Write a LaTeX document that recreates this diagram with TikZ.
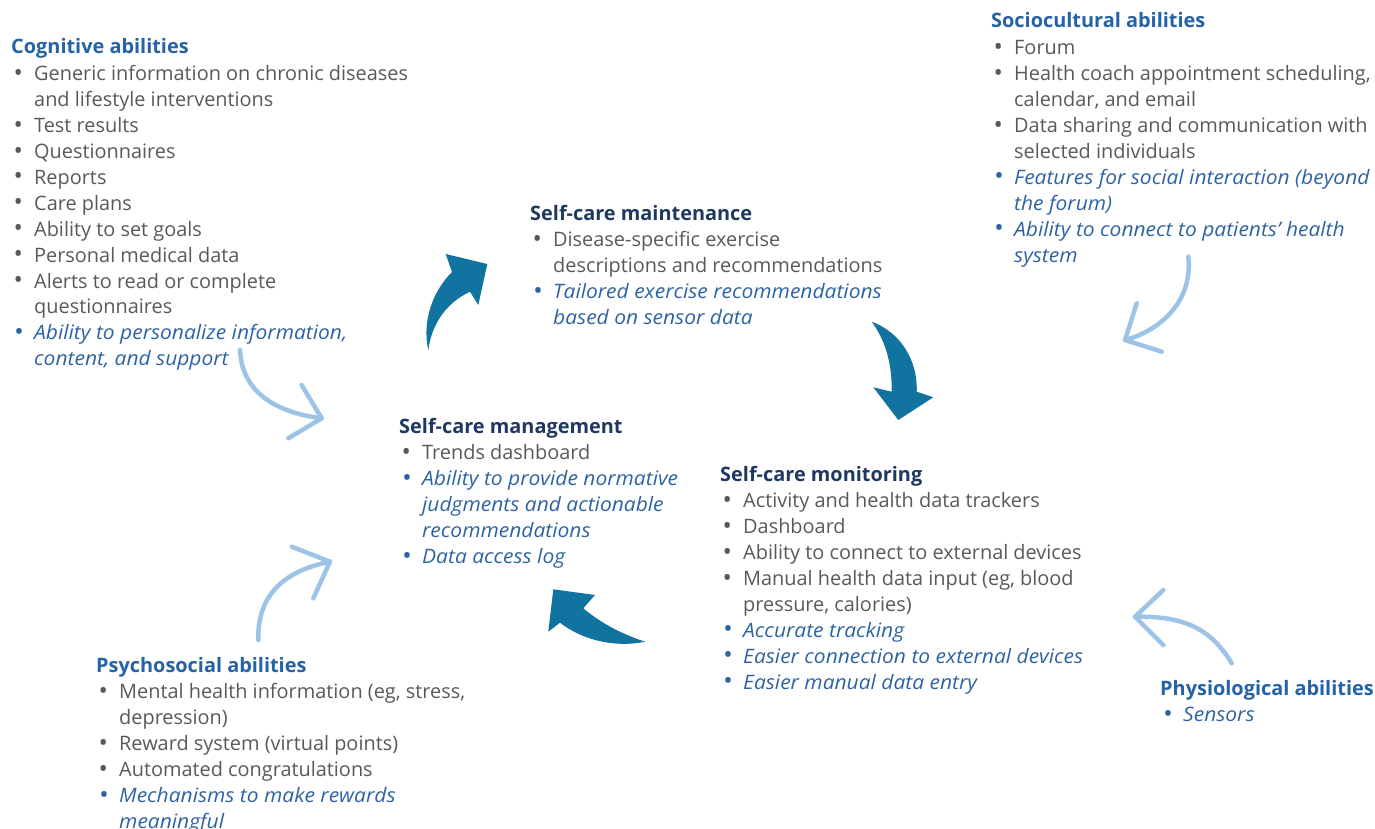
\documentclass[tikz,border=0pt]{standalone}
\usepackage{fontspec}
\setmainfont{Open Sans}[ItalicFeatures={FakeStretch=1.055}]

\definecolor{txtgray}{RGB}{89,89,89}
\definecolor{txtblue}{RGB}{46,99,163}
\definecolor{catblue}{RGB}{37,98,166}
\definecolor{navy}{RGB}{30,56,96}
\definecolor{teal}{RGB}{16,115,160}
\definecolor{lightblue}{RGB}{157,195,230}

% list helpers: bullet item, continuation line, gray and blue-italic text
\newcommand\itm[1]{\makebox[23pt][l]{\hspace{2.5pt}\raisebox{-0.5pt}{\scalebox{1.25}{\textbullet}}}#1}
\newcommand\cnt[1]{\hspace{23pt}#1}
\newcommand\G[1]{\textcolor{txtgray}{#1}}
\newcommand\B[1]{\textcolor{txtblue}{\itshape #1}}
\newcommand\catH[1]{\textcolor{catblue}{\bfseries #1}\\[1pt]}
\newcommand\stageH[1]{\textcolor{navy}{\bfseries #1}\\[1pt]}

\tikzset{
  block/.style={inner sep=0pt, anchor=base west, font=\fontsize{19.9}{25.9}\selectfont},
  bigarrow/.style={fill=teal, draw=none},
  thinarrow/.style={draw=lightblue, line width=4.5pt, line cap=round, line join=round},
}

\begin{document}
\begin{tikzpicture}[x=1pt,y=-1pt]
\useasboundingbox (0,0) rectangle (1375,829);

% ---- text blocks ----
\node[block] (cog) at (11,54) {\begin{tabular}[t]{@{}l@{}}
\catH{Cognitive abilities}
\G{\itm{Generic information on chronic diseases}}\\
\G{\cnt{and lifestyle interventions}}\\
\G{\itm{Test results}}\\
\G{\itm{Questionnaires}}\\
\G{\itm{Reports}}\\
\G{\itm{Care plans}}\\
\G{\itm{Ability to set goals}}\\
\G{\itm{Personal medical data}}\\
\G{\itm{Alerts to read or complete}}\\
\G{\cnt{questionnaires}}\\
\B{\itm{Ability to personalize information,}}\\
\B{\cnt{content, and support}}
\end{tabular}};

\node[block] (soc) at (991,28) {\begin{tabular}[t]{@{}l@{}}
\catH{Sociocultural abilities}
\G{\itm{Forum}}\\
\G{\itm{Health coach appointment scheduling,}}\\
\G{\cnt{calendar, and email}}\\
\G{\itm{Data sharing and communication with}}\\
\G{\cnt{selected individuals}}\\
\B{\itm{Features for social interaction (beyond}}\\
\B{\cnt{the forum)}}\\
\B{\itm{Ability to connect to patients’ health}}\\
\B{\cnt{system}}
\end{tabular}};

\node[block] (maint) at (530,220) {\begin{tabular}[t]{@{}l@{}}
\stageH{Self-care maintenance}
\G{\itm{Disease-specific exercise}}\\
\G{\cnt{descriptions and recommendations}}\\
\B{\itm{Tailored exercise recommendations}}\\
\B{\cnt{based on sensor data}}
\end{tabular}};

\node[block] (mgmt) at (399,433) {\begin{tabular}[t]{@{}l@{}}
\stageH{Self-care management}
\G{\itm{Trends dashboard}}\\
\B{\itm{Ability to provide normative}}\\
\B{\cnt{judgments and actionable}}\\
\B{\cnt{recommendations}}\\
\B{\itm{Data access log}}
\end{tabular}};

\node[block] (mon) at (720,481) {\begin{tabular}[t]{@{}l@{}}
\stageH{Self-care monitoring}
\G{\itm{Activity and health data trackers}}\\
\G{\itm{Dashboard}}\\
\G{\itm{Ability to connect to external devices}}\\
\G{\itm{Manual health data input (eg, blood}}\\
\G{\cnt{pressure, calories)}}\\
\B{\itm{Accurate tracking}}\\
\B{\itm{Easier connection to external devices}}\\
\B{\itm{Easier manual data entry}}
\end{tabular}};

\node[block] (psy) at (96,672) {\begin{tabular}[t]{@{}l@{}}
\catH{Psychosocial abilities}
\G{\itm{Mental health information (eg, stress,}}\\
\G{\cnt{depression)}}\\
\G{\itm{Reward system (virtual points)}}\\
\G{\itm{Automated congratulations}}\\
\B{\itm{Mechanisms to make rewards}}\\
\B{\cnt{meaningful}}
\end{tabular}};

\node[block] (phys) at (1160,695) {\begin{tabular}[t]{@{}l@{}}
\catH{Physiological abilities}
\B{\itm{Sensors}}
\end{tabular}};

% ---- curved block arrows of the care cycle ----
% management -> maintenance
\fill[bigarrow] (428.3,350)
  .. controls (422,322) and (432,292) .. (452,272)
  -- (445.7,254) -- (487.3,264) -- (478.3,305) -- (470,291.7)
  .. controls (448,302) and (432,322) .. cycle;
% maintenance -> monitoring
\fill[bigarrow] (871.7,321.7)
  .. controls (900,332) and (918,360) .. (916.7,391.7)
  -- (933.3,397.3) -- (898.3,420) -- (873.3,387.3) -- (891.7,391.7)
  .. controls (892,362) and (885,340) .. cycle;
% monitoring -> management
\fill[bigarrow] (645,641.7)
  .. controls (615,648) and (582,640) .. (560,622.7)
  -- (548.3,631.7) -- (553.3,589.3) -- (595,595) -- (583.3,608.3)
  .. controls (602,624) and (622,634) .. cycle;

% ---- thin arrows from the ability groups ----
\coordinate (a1s) at (240,350);   \coordinate (a1t) at (321.7,418.3);
\draw[thinarrow] (a1s) .. controls (242,395) and (280,413) .. (a1t);
\draw[thinarrow] (301.7,385) -- (a1t) -- (288.3,438.3);

\coordinate (a2s) at (258.3,640); \coordinate (a2t) at (330,561.7);
\draw[thinarrow] (a2s) .. controls (257,592) and (288,570) .. (a2t);
\draw[thinarrow] (291.7,546.7) -- (a2t) -- (313.3,598.3);

\coordinate (a3s) at (1188.3,256.7); \coordinate (a3t) at (1125,340);
\draw[thinarrow] (a3s) .. controls (1193,300) and (1162,330) .. (a3t);
\draw[thinarrow] (1136.7,303.3) -- (a3t) -- (1161.7,351.7);

\coordinate (a4s) at (1231.7,663.3); \coordinate (a4t) at (1135,616.7);
\draw[thinarrow] (a4s) .. controls (1210,627) and (1182,616) .. (a4t);
\draw[thinarrow] (1163.3,590) -- (a4t) -- (1163.3,645);
\end{tikzpicture}
\end{document}
